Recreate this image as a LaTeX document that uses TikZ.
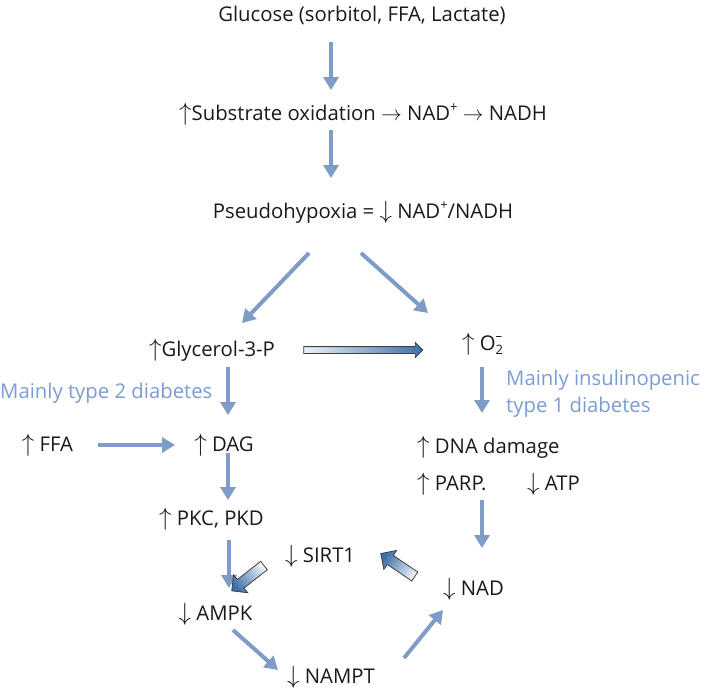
\documentclass[tikz,border=0pt]{standalone}
\usepackage{fontspec}
\setmainfont{Open Sans}
\usetikzlibrary{arrows.meta,shapes.arrows}
\definecolor{arrowblue}{HTML}{7F9CC6}
\definecolor{labelblue}{HTML}{7B9DD4}
\definecolor{txt}{HTML}{1A1A1A}
\definecolor{shadeL}{HTML}{EEF2F8}
\definecolor{shadeR}{HTML}{3F6FA8}
\newcommand\myup{{\fontsize{23}{23}\selectfont$\uparrow$}}
\newcommand\mydn{{\fontsize{23}{23}\selectfont$\downarrow$}}
\newcommand\myra{{\fontsize{22}{22}\selectfont$\rightarrow$}}
\newcommand\supsc[1]{\raisebox{0.75ex}{\fontsize{13}{13}\selectfont #1}}
\begin{document}
\begin{tikzpicture}[x=1pt,y=-1pt,
  lbl/.style={anchor=base, inner sep=0pt, text=txt, font=\fontsize{20.3}{24}\selectfont},
  lblw/.style={lbl, anchor=base west},
  bluelbl/.style={anchor=base west, inner sep=0pt, text=labelblue, font=\fontsize{20.3}{24}\selectfont},
  flow/.style={draw=arrowblue, line width=4pt, -{Triangle[width=15pt,length=13pt]}},
  blockarrow/.style={shape=single arrow, draw=black!75, line width=0.8pt,
    inner xsep=0pt, minimum width=0pt, single arrow tip angle=90},
  blockshade/.style={left color=shadeL, right color=shadeR, shading angle=#1}
]
\fill[white] (0,0) rectangle (709,691);
\useasboundingbox (0,0) rectangle (709,691);

% text nodes
\node[lbl] (glucose) at (362,21) {Glucose (sorbitol, FFA, Lactate)};
\node[lbl] (substrate) at (363,120) {\myup Substrate oxidation \myra{} NAD\supsc{+} \myra{} NADH};
\node[lbl] (pseudo) at (363,218) {Pseudohypoxia = \mydn{} NAD\supsc{+}/NADH};
\node[lbl] (glycerol) at (212,356) {\myup Glycerol-3-P};
\node[lblw] (o2) at (462,350) {\myup{} O\rlap{\raisebox{0.85ex}{\fontsize{13}{13}\selectfont --}}\raisebox{-0.45ex}{\fontsize{13}{13}\selectfont 2}};
\node[bluelbl] (type2) at (0,398) {Mainly type 2 diabetes};
\node[bluelbl] (insul) at (506,385) {Mainly insulinopenic};
\node[bluelbl] (type1) at (506,412) {type 1 diabetes};
\node[lbl] (ffa) at (47.5,451) {\myup{} FFA};
\node[lbl] (dag) at (224,451) {\myup{} DAG};
\node[lblw] (dna) at (417,453) {\myup{} DNA damage};
\node[lblw] (parp) at (417,490) {\myup{} PARP.};
\node[lblw] (atp) at (527,490) {\mydn{} ATP};
\node[lbl] (pkc) at (211.5,525) {\myup{} PKC, PKD};
\node[lblw] (sirt) at (285,562) {\mydn{} SIRT1};
\node[lblw] (nad) at (443,595) {\mydn{} NAD};
\node[lbl] (ampk) at (215.5,620) {\mydn{} AMPK};
\node[lbl] (nampt) at (331,683) {\mydn{} NAMPT};

% connector end points
\coordinate (a1s) at (331,42);  \coordinate (a1e) at (331,90);
\coordinate (a2s) at (331,130); \coordinate (a2e) at (331,178);
\coordinate (a3s) at (309,253); \coordinate (a3e) at (242,323);
\coordinate (a4s) at (361,253); \coordinate (a4e) at (428,313);
\coordinate (a5s) at (228,367); \coordinate (a5e) at (228,415);
\coordinate (a6s) at (482,367); \coordinate (a6e) at (482,413);
\coordinate (a7s) at (98,445);  \coordinate (a7e) at (175,445);
\coordinate (a8s) at (228,453); \coordinate (a8e) at (228,500);
\coordinate (a9s) at (229,540); \coordinate (a9e) at (229,588);
\coordinate (a10s) at (482,500); \coordinate (a10e) at (482,548);
\coordinate (a11s) at (233,630); \coordinate (a11e) at (278,670);
\coordinate (a12s) at (404,658); \coordinate (a12e) at (443,610);

\draw[flow] (a1s) -- (a1e);
\draw[flow] (a2s) -- (a2e);
\draw[flow] (a3s) -- (a3e);
\draw[flow] (a4s) -- (a4e);
\draw[flow] (a5s) -- (a5e);
\draw[flow] (a6s) -- (a6e);
\draw[flow] (a7s) -- (a7e);
\draw[flow] (a8s) -- (a8e);
\draw[flow] (a9s) -- (a9e);
\draw[flow] (a10s) -- (a10e);
\draw[flow] (a11s) -- (a11e);
\draw[flow] (a12s) -- (a12e);

% shaded block arrows
\node[blockarrow, blockshade=90, minimum height=119pt, inner ysep=3pt, single arrow head extend=4pt] (b1) at (361.5,350) {};
\node[blockarrow, blockshade=-52, minimum height=41pt, inner ysep=5pt, single arrow head extend=6pt, rotate=218] (b2) at (250,576.5) {};
\node[blockarrow, blockshade=236, minimum height=41pt, inner ysep=5pt, single arrow head extend=6pt, rotate=146] (b3) at (400,566.5) {};
\end{tikzpicture}
\end{document}
